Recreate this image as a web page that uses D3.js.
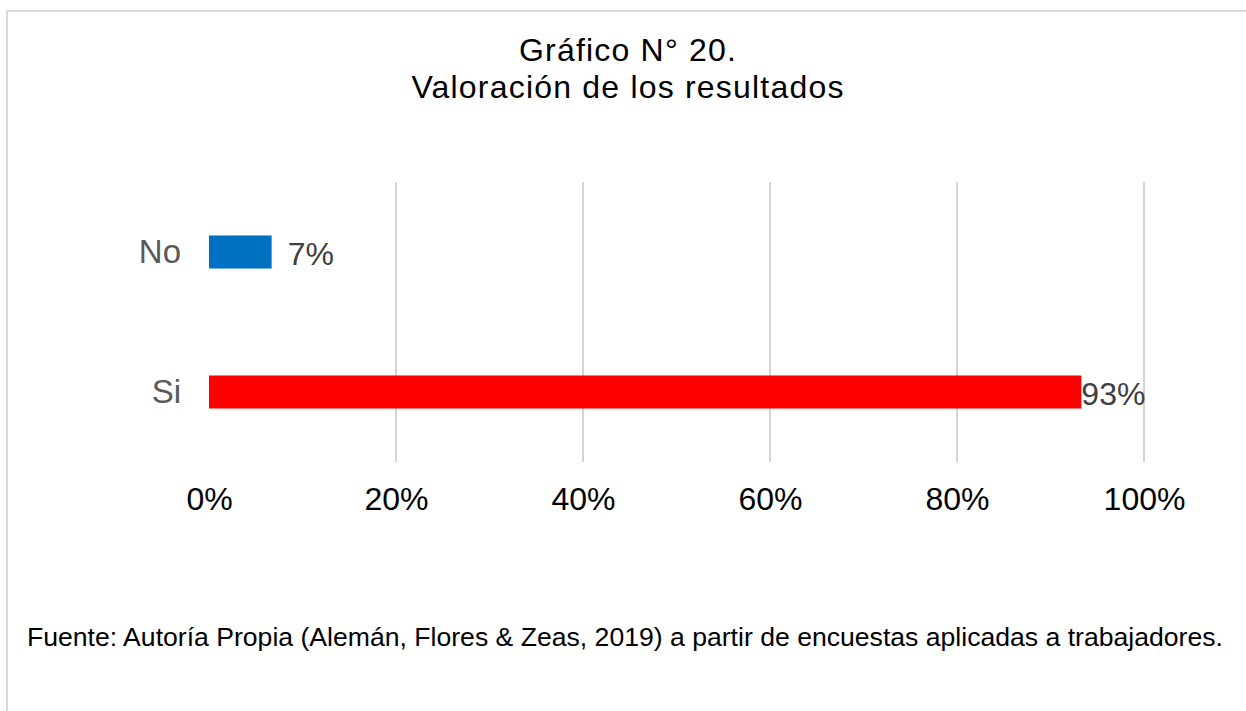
<!doctype html>
<html lang="es">
<head>
    <meta charset="utf-8">
    <title>Gráfico N° 20</title>
    <script src="https://cdnjs.cloudflare.com/ajax/libs/d3/7.8.5/d3.min.js"></script>
    <style>
        body { margin: 0; background: #fff; }
        svg text { font-family: "Liberation Sans", Arial, sans-serif; }
    </style>
</head>
<body>
    <div id="chart"></div>
    <script>
        // chart data
        var categories = ["No", "Si"];
        var values = [0.067, 0.933];
        var barColors = ["#0070c0", "#ff0000"];
        var valueLabels = ["7%", "93%"];
        var tickValues = [0, 0.2, 0.4, 0.6, 0.8, 1];
        var titleLines = ["Gráfico N° 20.", "Valoración de los resultados"];
        var sourceNote = "Fuente: Autoría Propia (Alemán, Flores & Zeas, 2019) a partir de encuestas aplicadas a trabajadores.";

        var width = 1246;
        var height = 711;
        var plot = { left: 209, right: 1144, top: 182, bottom: 462 };

        var svg = d3.select("#chart")
            .append("svg")
              .attr("width", width)
              .attr("height", height);

        // outer frame (top and left edges visible)
        svg.append("path")
            .attr("d", "M7,711 V11 H1246")
            .attr("fill", "none")
            .attr("stroke", "#d9d9d9")
            .attr("stroke-width", 2);

        // title
        svg.selectAll("text.title")
            .data(titleLines)
            .enter()
            .append("text")
              .attr("class", "title")
              .attr("x", 628)
              .attr("y", function(d, i) { return 61 + i * 37; })
              .attr("text-anchor", "middle")
              .attr("font-size", 32)
              .attr("letter-spacing", 1.2)
              .attr("fill", "#000")
              .text(function(d) { return d; });

        var xScale = d3.scaleLinear()
            .domain([0, 1])
            .range([plot.left, plot.right]);

        var yScale = d3.scaleBand()
            .domain(categories)
            .range([plot.top, plot.bottom])
            .paddingInner(0.764)
            .paddingOuter(0.382);

        // vertical gridlines (no line at 0)
        svg.append("g")
            .selectAll("line")
            .data(tickValues.filter(function(d) { return d > 0; }))
            .enter()
            .append("line")
              .attr("x1", function(d) { return Math.round(xScale(d)); })
              .attr("x2", function(d) { return Math.round(xScale(d)); })
              .attr("y1", plot.top)
              .attr("y2", plot.bottom)
              .attr("stroke", "#d4d4d4")
              .attr("stroke-width", 2);

        // x axis labels
        var xAxis = d3.axisBottom(xScale)
            .tickValues(tickValues)
            .tickFormat(d3.format(".0%"))
            .tickSize(0)
            .tickPadding(0);

        var axisG = svg.append("g")
            .attr("transform", "translate(0," + 487 + ")")
            .call(xAxis);
        axisG.select(".domain").remove();
        axisG.selectAll("text")
            .attr("font-size", 32)
            .attr("font-family", "Liberation Sans, Arial, sans-serif")
            .attr("fill", "#000");

        // category labels
        var yAxis = d3.axisLeft(yScale)
            .tickSize(0)
            .tickPadding(28);
        var yG = svg.append("g")
            .attr("transform", "translate(" + plot.left + ",0)")
            .call(yAxis);
        yG.select(".domain").remove();
        yG.selectAll("text")
            .attr("font-size", 33)
            .attr("font-family", "Liberation Sans, Arial, sans-serif")
            .attr("fill", "#595959");

        // bars
        svg.append("g")
            .selectAll("rect")
            .data(values)
            .enter()
            .append("rect")
              .attr("x", xScale(0))
              .attr("y", function(d, i) { return yScale(categories[i]); })
              .attr("width", function(d) { return xScale(d) - xScale(0); })
              .attr("height", yScale.bandwidth())
              .attr("fill", function(d, i) { return barColors[i]; });

        // value labels
        svg.append("g")
            .selectAll("text")
            .data(values)
            .enter()
            .append("text")
              .attr("x", function(d, i) { return xScale(d) + (i === 0 ? 16 : 0); })
              .attr("y", function(d, i) { return yScale(categories[i]) + yScale.bandwidth() / 2 + 2; })
              .attr("dy", "0.35em")
              .attr("font-size", 32)
              .attr("fill", "#404040")
              .text(function(d, i) { return valueLabels[i]; });

        // source note
        svg.append("text")
            .attr("x", 27)
            .attr("y", 646)
            .attr("font-size", 26.6)
            .attr("fill", "#000")
            .text(sourceNote);
    </script>
</body>
</html>
